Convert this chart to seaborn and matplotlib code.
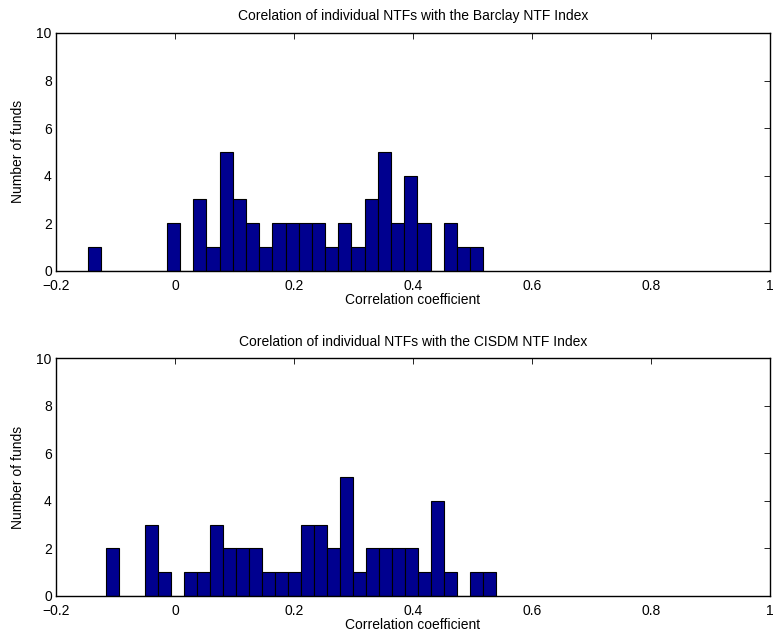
import numpy as np
import pandas as pd
import matplotlib
matplotlib.use("Agg")
import matplotlib.pyplot as plt
import seaborn as sns

# Histogram counts per bin (30 equal bins spanning each sample's min..max)
barclay_counts = [1, 0, 0, 0, 0, 0, 2, 0, 3, 1, 5, 3, 2, 1, 2,
                  2, 2, 2, 1, 2, 1, 3, 5, 2, 4, 2, 0, 2, 1, 1]
barclay_range = (-0.1467, 0.518)

cisdm_counts = [2, 0, 0, 3, 1, 0, 1, 1, 3, 2, 2, 2, 1, 1, 1,
                3, 3, 2, 5, 1, 2, 2, 2, 2, 1, 4, 1, 0, 1, 1]
cisdm_range = (-0.1158, 0.540)

titles = ["Corelation of individual NTFs with the Barclay NTF Index",
          "Corelation of individual NTFs with the CISDM NTF Index"]
xlabel = "Correlation coefficient"
ylabel = "Number of funds"
xticks = [-0.2, 0, 0.2, 0.4, 0.6, 0.8, 1]
yticks = [0, 2, 4, 6, 8, 10]

sns.set_style("white", {"text.color": "black", "axes.labelcolor": "black",
                        "xtick.color": "black", "ytick.color": "black",
                        "axes.edgecolor": "black"})
plt.rcParams["font.family"] = ["Liberation Sans", "DejaVu Sans"]
plt.rcParams["axes.unicode_minus"] = True

fig = plt.figure(figsize=(7.74, 6.43), dpi=100)
ax_top = fig.add_axes([0.0724, 0.579, 0.9225, 0.3697])
ax_bot = fig.add_axes([0.0724, 0.0731, 0.9225, 0.3697])

for ax, counts, (lo, hi), title in zip(
        [ax_top, ax_bot], [barclay_counts, cisdm_counts],
        [barclay_range, cisdm_range], titles):
    nbins = len(counts)
    width = (hi - lo) / nbins
    centers = lo + width * (np.arange(nbins) + 0.5)
    df = pd.DataFrame({"r": centers, "n": counts})
    sns.histplot(data=df, x="r", weights="n", bins=nbins, binrange=(lo, hi),
                 ax=ax, color="#00008F", alpha=1.0, edgecolor="black",
                 linewidth=0.8)
    ax.set_xlim(-0.2, 1)
    ax.set_ylim(0, 10)
    ax.set_xticks(xticks)
    ax.set_xticklabels(["\u22120.2", "0", "0.2", "0.4", "0.6", "0.8", "1"])
    ax.set_yticks(yticks)
    ax.tick_params(direction="in", top=True, right=True, length=4.5,
                   width=0.6, labelsize=10, colors="black")
    ax.tick_params(axis="x", pad=6)
    ax.tick_params(axis="y", pad=3)
    for s in ax.spines.values():
        s.set_visible(True)
        s.set_color("black")
        s.set_linewidth(1.0)
    ax.set_title(title, fontsize=10, pad=9, color="black")
    ax.set_xlabel(xlabel, fontsize=10, labelpad=0, color="black")
    ax.set_ylabel(ylabel, fontsize=10, labelpad=8, color="black")

fig.savefig("out.png", dpi=100)
